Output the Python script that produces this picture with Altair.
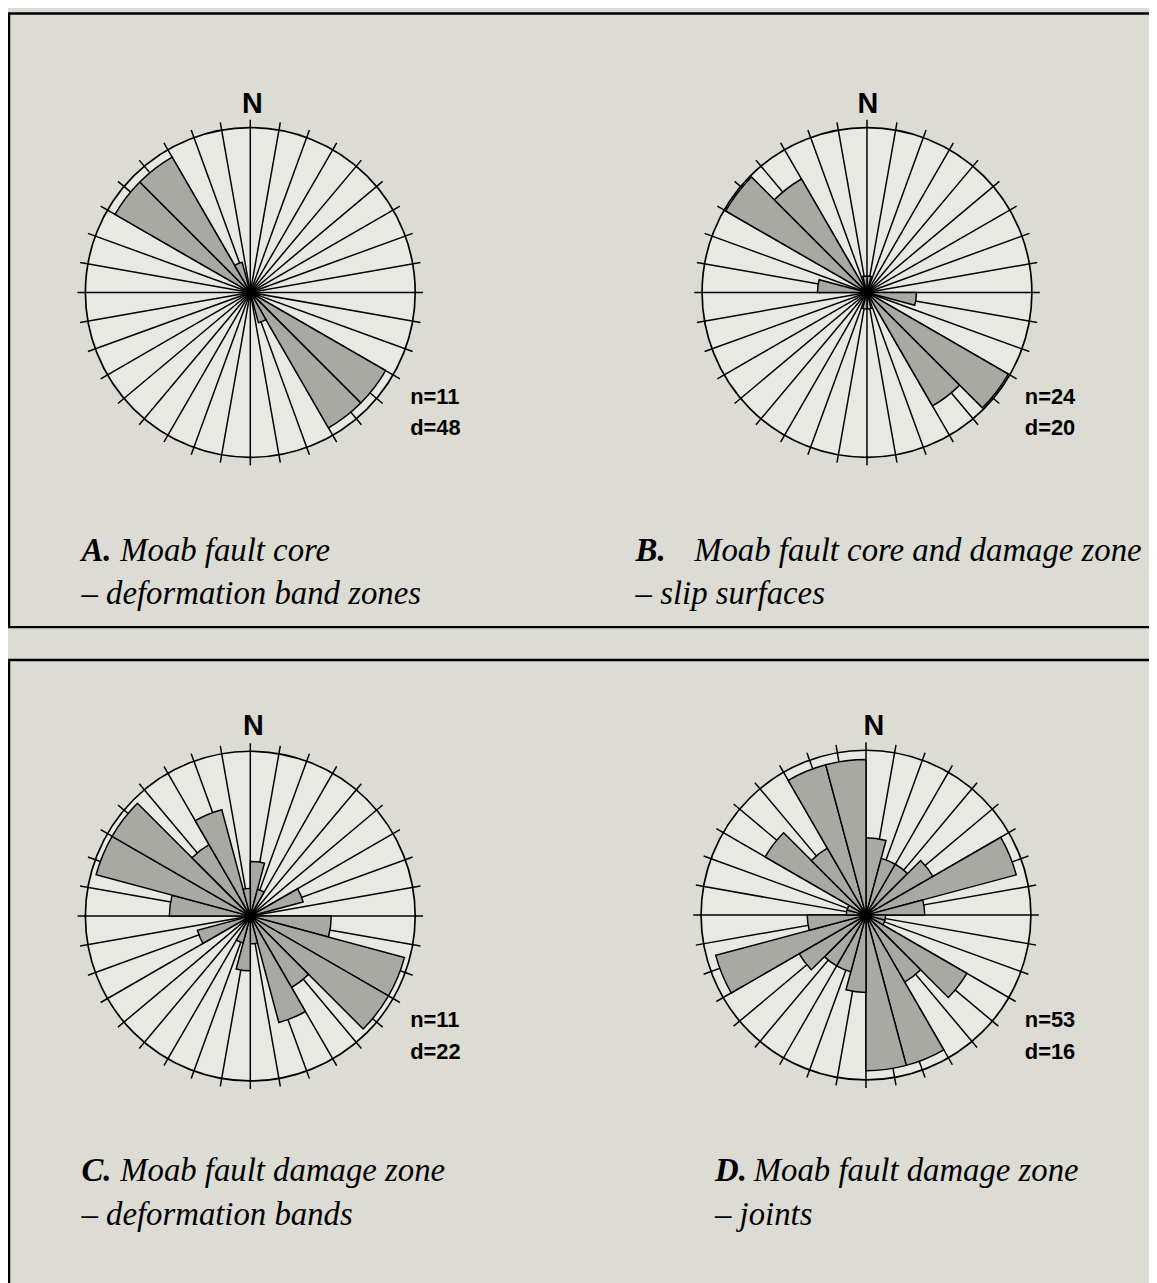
import math
import altair as alt
import pandas as pd

# ---------------- data ----------------
BIN_START = list(range(0, 360, 15))          # petal bins, 15 degrees wide
BIN_WIDTH = 15
GRID_ANGLES = list(range(0, 360, 10))         # radial reference lines

# petal lengths in percent of n (outer circle = d percent)
A_PCT = [0, 0, 0, 0, 0, 0, 0, 0, 45.5, 45.5, 9.1, 0,
         0, 0, 0, 0, 0, 0, 0, 0, 45.5, 45.5, 9.1, 0]
B_PCT = [2.0, 0, 0, 0, 0, 0, 6.0, 0, 19.8, 15.9, 0, 2.0,
         2.0, 0, 0, 0, 0, 0, 6.0, 0, 19.8, 15.9, 0, 2.0]
C_PCT = [7.3, 3.7, 0, 0, 7.3, 0, 10.8, 21.3, 21.3, 11.0, 14.7, 3.7,
         7.3, 3.7, 0, 0, 7.3, 0, 10.8, 21.3, 21.3, 11.0, 14.7, 3.7]
D_PCT = [7.5, 5.7, 5.7, 7.5, 15.1, 5.7, 1.9, 1.9, 11.3, 7.5, 15.1, 15.1,
         7.5, 5.7, 5.7, 7.5, 15.1, 5.7, 1.9, 1.9, 11.3, 7.5, 15.1, 15.1]

PANEL_KEYS = ["A", "B", "C", "D"]
PANEL_N = [11, 24, 11, 53]
PANEL_D = [48, 20, 22, 16]
PANEL_PCT = [A_PCT, B_PCT, C_PCT, D_PCT]
PANEL_TITLE = ["Moab fault core",
               "Moab fault core and damage zone",
               "Moab fault damage zone",
               "Moab fault damage zone"]
PANEL_SUB = ["\u2013 deformation band zones",
             "\u2013 slip surfaces",
             "\u2013 deformation bands",
             "\u2013 joints"]

# ---------------- layout (pixels of the reference picture) ----------------
W, H = 1157, 1283
M = 8
R = 166
TICK = 174
CENTER = {"A": (252, 290), "B": (873, 290), "C": (252, 918), "D": (872, 917)}
NLABEL = {"A": (254, 100), "B": (874, 100), "C": (255, 727), "D": (880, 727)}
STATS = {"A": (413, 395), "B": (1032, 395), "C": (413, 1023), "D": (1032, 1023)}
CAPTION = {"A": (82, 121, 550), "B": (640, 699, 550), "C": (82, 121, 1175), "D": (720, 759, 1175)}
LINE_GAP = 44
CAP_SIZE = 33

BG = "#dcdcd5"
DISC = "#e9e9e4"
PETAL = "#a9a9a4"

xs = alt.Scale(domain=[M, W], range=[0, W - M])
ys = alt.Scale(domain=[M, H], range=[0, H - M])
rs = alt.Scale(type="linear", domain=[0, 1], range=[0, R], zero=True)
ts = alt.Scale(domain=[0, 360], range=[0, 2 * math.pi])

# ---------------- tables ----------------
petal_rows, disc_rows, grid_rows, text_rows, cap_rows = [], [], [], [], []
for k, n, d, pct, tt, sub in zip(PANEL_KEYS, PANEL_N, PANEL_D, PANEL_PCT, PANEL_TITLE, PANEL_SUB):
    cx, cy = CENTER[k]
    disc_rows.append({"panel": k, "cx": cx, "cy": cy, "t0": 0, "t1": 360, "frac": 1.0})
    for b, p in zip(BIN_START, pct):
        if p > 0:
            petal_rows.append({"panel": k, "cx": cx, "cy": cy, "t0": b,
                               "t1": b + BIN_WIDTH, "frac": p / d})
    for a in GRID_ANGLES:
        grid_rows.append({"panel": k, "cx": cx, "cy": cy, "ang": a, "len": TICK})
    nx, ny = NLABEL[k]
    text_rows.append({"x": nx, "y": ny, "text": "N", "size": 29, "align": "center"})
    sx, sy = STATS[k]
    text_rows.append({"x": sx, "y": sy, "text": f"n={n}", "size": 22, "align": "left"})
    text_rows.append({"x": sx, "y": sy + 32, "text": f"d={d}", "size": 22, "align": "left"})
    lx, tx, cy2 = CAPTION[k]
    cap_rows.append({"x": lx, "y": cy2, "text": k + ".", "kind": "letter"})
    cap_rows.append({"x": tx, "y": cy2, "text": tt, "kind": "title"})
    cap_rows.append({"x": lx, "y": cy2 + LINE_GAP, "text": sub, "kind": "title"})

petals = pd.DataFrame(petal_rows)
discs = pd.DataFrame(disc_rows)
grid = pd.DataFrame(grid_rows)
texts = pd.DataFrame(text_rows)
caps = pd.DataFrame(cap_rows)

def arc_enc():
    return dict(
        x=alt.X("cx:Q", scale=xs, axis=None),
        y=alt.Y("cy:Q", scale=ys, axis=None),
        theta=alt.Theta("t0:Q", scale=ts, stack=False),
        theta2=alt.Theta2("t1:Q"),
        radius=alt.Radius("frac:Q", scale=rs),
    )

# boxes
boxes = pd.DataFrame({"bx": [9, 9], "bx2": [1162, 1162], "by": [9, 660], "by2": [627, 1290]})
box_layer = alt.Chart(boxes).mark_rect(fill=BG, stroke="black", strokeWidth=2.5).encode(
    x=alt.X("bx:Q", scale=xs, axis=None), x2="bx2:Q",
    y=alt.Y("by:Q", scale=ys, axis=None), y2="by2:Q")

disc_fill = alt.Chart(discs).mark_arc(fill=DISC, strokeWidth=0).encode(**arc_enc())

grid_layer = alt.Chart(grid).transform_calculate(
    x2="datum.cx + datum.len * sin(datum.ang * PI / 180)",
    y2="datum.cy - datum.len * cos(datum.ang * PI / 180)",
).mark_rule(color="black", strokeWidth=1.5).encode(
    x=alt.X("cx:Q", scale=xs, axis=None), x2="x2:Q",
    y=alt.Y("cy:Q", scale=ys, axis=None), y2="y2:Q")

petal_layer = alt.Chart(petals).mark_arc(fill=PETAL, stroke="black", strokeWidth=1.5,
                                         strokeJoin="miter").encode(**arc_enc())

disc_line = alt.Chart(discs).mark_arc(fillOpacity=0, stroke="black", strokeWidth=1.7).encode(**arc_enc())

dot = alt.Chart(discs).mark_circle(color="black", opacity=1, size=120).encode(
    x=alt.X("cx:Q", scale=xs, axis=None), y=alt.Y("cy:Q", scale=ys, axis=None))

sans_c = alt.Chart(texts[texts["align"] == "center"]).mark_text(
    font="Liberation Sans", fontWeight="bold", align="center", baseline="middle", color="black").encode(
    x=alt.X("x:Q", scale=xs, axis=None), y=alt.Y("y:Q", scale=ys, axis=None),
    text="text:N", size=alt.Size("size:Q", scale=None))
sans_l = alt.Chart(texts[texts["align"] == "left"]).mark_text(
    font="Liberation Sans", fontWeight="bold", align="left", baseline="middle", color="black").encode(
    x=alt.X("x:Q", scale=xs, axis=None), y=alt.Y("y:Q", scale=ys, axis=None),
    text="text:N", size=alt.Size("size:Q", scale=None))

letters = alt.Chart(caps[caps["kind"] == "letter"]).mark_text(
    font="Liberation Serif", fontStyle="italic", fontWeight="bold", fontSize=CAP_SIZE,
    align="left", baseline="middle", color="black").encode(
    x=alt.X("x:Q", scale=xs, axis=None), y=alt.Y("y:Q", scale=ys, axis=None), text="text:N")
titles = alt.Chart(caps[caps["kind"] == "title"]).mark_text(
    font="Liberation Serif", fontStyle="italic", fontSize=CAP_SIZE,
    align="left", baseline="middle", color="black").encode(
    x=alt.X("x:Q", scale=xs, axis=None), y=alt.Y("y:Q", scale=ys, axis=None), text="text:N")

chart = alt.layer(box_layer, disc_fill, grid_layer, petal_layer, disc_line, dot,
                  sans_c, sans_l, letters, titles).properties(
    width=W - M, height=H - M,
    autosize=alt.AutoSizeParams(type="none"),
    padding=0,
    background=BG,
).configure_view(stroke=None)

chart.save("out.html", embed_options={"renderer": "svg", "actions": False})
